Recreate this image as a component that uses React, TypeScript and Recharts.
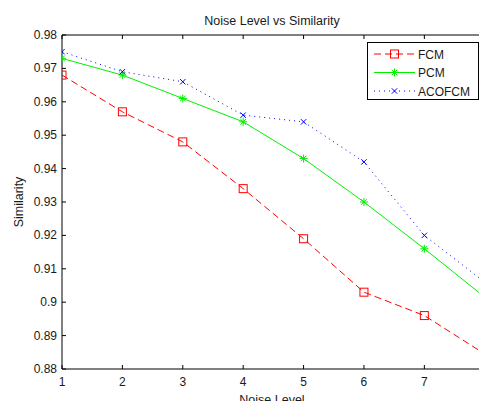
import React from 'react';
import { LineChart, Line, XAxis, YAxis } from 'recharts';

const noiseLevels = [1, 2, 3, 4, 5, 6, 7, 8];
const fcm = [0.968, 0.957, 0.948, 0.934, 0.919, 0.903, 0.896, 0.8845];
const pcm = [0.973, 0.968, 0.961, 0.954, 0.943, 0.930, 0.916, 0.9015];
const acofcm = [0.975, 0.969, 0.966, 0.956, 0.954, 0.942, 0.920, 0.906];
const xTicks = [1, 2, 3, 4, 5, 6, 7];
const yTicks = [0.88, 0.89, 0.9, 0.91, 0.92, 0.93, 0.94, 0.95, 0.96, 0.97, 0.98];
const yTickLabels = ['0.88', '0.89', '0.9', '0.91', '0.92', '0.93', '0.94', '0.95', '0.96', '0.97', '0.98'];
const seriesNames = ['FCM', 'PCM', 'ACOFCM'];

const data = noiseLevels.map((n, i) => ({ noise: n, FCM: fcm[i], PCM: pcm[i], ACOFCM: acofcm[i] }));

const W = 479;
const H = 401;
const LEFT = 62;
const TOP = 35;
const BOTTOM = 369;
const FONT = '"Liberation Sans", Arial, sans-serif';
const TXT = '#1a1a1a';

const styles: Record<string, { color: string; dash?: string; marker: string }> = {
  FCM: { color: '#ff0000', dash: '7 4', marker: 'square' },
  PCM: { color: '#00f000', marker: 'star' },
  ACOFCM: { color: '#0000ff', dash: '1 4', marker: 'x' },
};

function Marker({ kind, cx, cy, color }: { kind: string; cx: number; cy: number; color: string }) {
  if (cx == null || cy == null || isNaN(cx) || isNaN(cy)) return null;
  if (kind === 'square') {
    return <rect x={cx - 4} y={cy - 4} width={8} height={8} fill="none" stroke={color} strokeWidth={1} />;
  }
  if (kind === 'star') {
    const r = 4;
    const d = 2.8;
    return (
      <g stroke={color} strokeWidth={1}>
        <line x1={cx - r} y1={cy} x2={cx + r} y2={cy} />
        <line x1={cx} y1={cy - r} x2={cx} y2={cy + r} />
        <line x1={cx - d} y1={cy - d} x2={cx + d} y2={cy + d} />
        <line x1={cx - d} y1={cy + d} x2={cx + d} y2={cy - d} />
      </g>
    );
  }
  const r = 2.7;
  return (
    <g stroke={color} strokeWidth={1}>
      <line x1={cx - r} y1={cy - r} x2={cx + r} y2={cy + r} />
      <line x1={cx - r} y1={cy + r} x2={cx + r} y2={cy - r} />
    </g>
  );
}

const makeDot = (name: string) => (props: any) => {
  const { cx, cy, index } = props;
  return <Marker key={`${name}-${index}`} kind={styles[name].marker} cx={cx} cy={cy} color={styles[name].color} />;
};

const YTick = (props: any) => {
  const { y, payload } = props;
  const label = yTickLabels[yTicks.indexOf(payload.value)] ?? String(payload.value);
  return (
    <g>
      <line x1={LEFT} y1={y} x2={LEFT + 4} y2={y} stroke="#000" />
      <text x={LEFT - 5} y={y + 4} textAnchor="end" fontSize={12} fontFamily={FONT} fill={TXT}>{label}</text>
    </g>
  );
};

const XTick = (props: any) => {
  const { x, payload } = props;
  return (
    <g>
      <line x1={x} y1={BOTTOM} x2={x} y2={BOTTOM - 4} stroke="#000" />
      <text x={x} y={BOTTOM + 17} textAnchor="middle" fontSize={12} fontFamily={FONT} fill={TXT}>{payload.value}</text>
    </g>
  );
};

const TopTick = (props: any) => {
  const { x } = props;
  return <line x1={x} y1={TOP} x2={x} y2={TOP + 4} stroke="#000" />;
};

const LegendBox = () => (
  <svg width={112} height={58} style={{ display: 'block' }}>
    <rect x={0.5} y={0.5} width={111} height={57} fill="#fff" stroke="#000" strokeWidth={1} />
    {seriesNames.map((name, i) => {
      const y = 12 + i * 18.5;
      const s = styles[name];
      return (
        <g key={name}>
          <line x1={7} y1={y} x2={48} y2={y} stroke={s.color} strokeDasharray={s.dash} strokeWidth={1} />
          <Marker kind={s.marker} cx={27.5} cy={y} color={s.color} />
          <text x={51} y={y + 4.5} fontSize={12} fontFamily={FONT} fill={TXT}>{name}</text>
        </g>
      );
    })}
  </svg>
);

export default function App() {
  return (
    <div style={{ position: 'absolute', left: 0, top: 0, width: W, height: H, background: '#fff', overflow: 'hidden' }}>
      <LineChart
        width={W}
        height={H}
        data={data}
        margin={{ top: TOP - 1, right: 0, bottom: H - BOTTOM - 1, left: LEFT - 1 }}
      >
        <XAxis
          xAxisId="bottom"
          dataKey="noise"
          type="number"
          domain={[1, 7.905]}
          allowDataOverflow
          ticks={xTicks}
          height={1}
          tickLine={false}
          axisLine={{ stroke: '#000' }}
          tick={<XTick />}
          interval={0}
        />
        <XAxis
          xAxisId="top"
          dataKey="noise"
          orientation="top"
          type="number"
          domain={[1, 7.905]}
          allowDataOverflow
          ticks={xTicks}
          height={1}
          tickLine={false}
          axisLine={{ stroke: '#000' }}
          tick={<TopTick />}
          interval={0}
        />
        <YAxis
          type="number"
          domain={[0.88, 0.98]}
          allowDataOverflow
          ticks={yTicks}
          width={1}
          tickLine={false}
          axisLine={{ stroke: '#000' }}
          tick={<YTick />}
          interval={0}
        />
        {seriesNames.map((name) => (
          <Line
            key={name}
            xAxisId="bottom"
            type="linear"
            dataKey={name}
            stroke={styles[name].color}
            strokeWidth={1}
            strokeDasharray={styles[name].dash}
            dot={makeDot(name)}
            activeDot={false}
            isAnimationActive={false}
          />
        ))}
        <text x={272} y={25} textAnchor="middle" fontSize={12.5} fontFamily={FONT} fill={TXT}>Noise Level vs Similarity</text>
        <text x={272} y={404} textAnchor="middle" fontSize={12.5} fontFamily={FONT} fill={TXT}>Noise Level</text>
        <text x={0} y={0} transform={`translate(23, ${(TOP + BOTTOM) / 2}) rotate(-90)`} textAnchor="middle" fontSize={12.5} fontFamily={FONT} fill={TXT}>Similarity</text>
      </LineChart>
      <div style={{ position: 'absolute', left: 367, top: 42 }}>
        <LegendBox />
      </div>
    </div>
  );
}
